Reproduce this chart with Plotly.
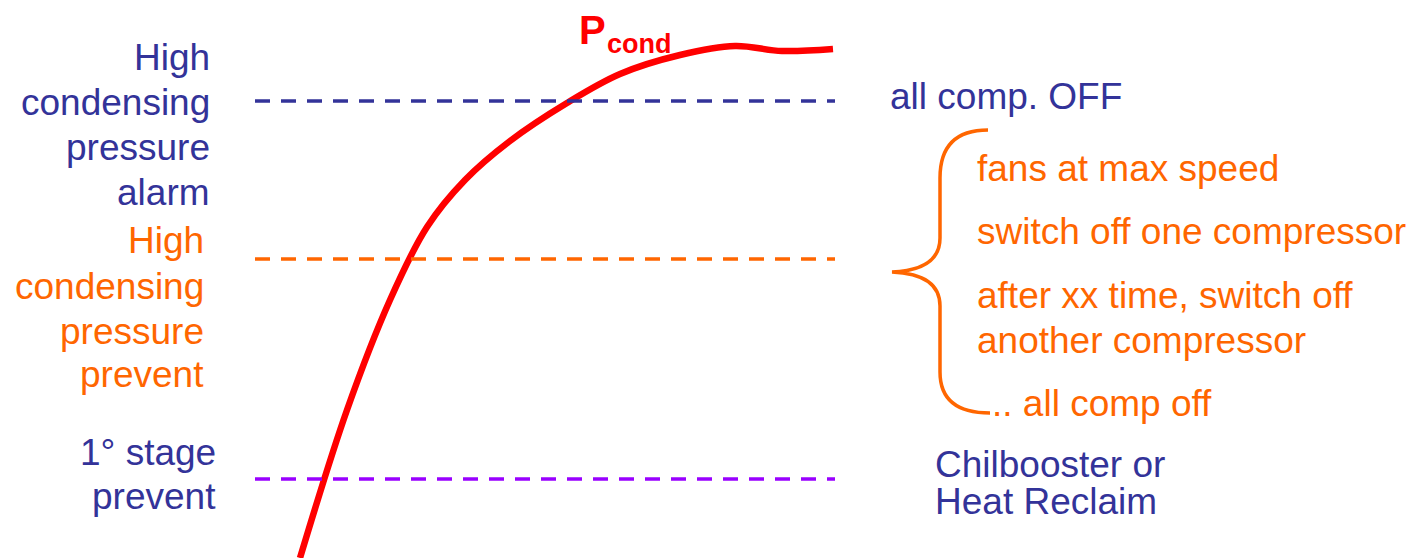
import plotly.graph_objects as go

# condensing pressure curve (x = time, y = level on a screen-like scale, 0 at top)
curve_x = [300, 347, 390, 427, 465, 510, 567, 620, 680, 735, 782, 833]
curve_y = [558, 410, 300, 227, 180, 141, 103, 74, 55, 46, 51, 49]

# threshold levels
level_names = ["alarm", "prevent", "stage1"]
level_y = [101, 259, 479]
level_x0 = 255
level_x1 = 835

BLUE = "#333399"
ORANGE = "#FF6600"
PURPLE = "#9900FF"
RED = "#FF0000"
FONT = "Liberation Sans, Arial, sans-serif"
FS = 37

# left labels: (text, baseline)
alarm_lines = [("High", 68), ("condensing", 113), ("pressure", 158), ("alarm", 203)]
prevent_lines = [("High", 251), ("condensing", 297), ("pressure", 342), ("prevent", 385)]
stage_lines = [("1° stage", 463), ("prevent", 507)]

# right labels: (text, baseline)
off_lines = [("all comp. OFF", 107)]
action_lines = [("fans at max speed", 179), ("switch off one compressor", 242),
                ("after xx time, switch off", 306), ("another compressor", 351)]
last_action = [(".. all comp off", 414)]
reclaim_lines = [("Chilbooster or", 475), ("Heat Reclaim", 512)]

fig = go.Figure()

fig.add_trace(go.Scatter(x=curve_x, y=curve_y, mode="lines",
                         line=dict(color=RED, width=6.5, shape="spline", smoothing=1.0),
                         hoverinfo="skip", showlegend=False))

for y, c in zip(level_y, [BLUE, ORANGE, PURPLE]):
    fig.add_trace(go.Scatter(x=[level_x0, level_x1], y=[y, y], mode="lines",
                             line=dict(color=c, width=3.5, dash="15px,11px"),
                             hoverinfo="skip", showlegend=False))

# brace
fig.add_shape(type="path",
              path="M 988,130 Q 940,130 940,178 L 940,238 Q 940,270 892,272 "
                   "Q 940,274 940,306 L 940,372 Q 940,413 990,413",
              line=dict(color=ORANGE, width=3.5), xref="x", yref="y")


def add_lines(lines, x, anchor, color):
    for txt, base in lines:
        fig.add_annotation(x=x, y=base - 0.28 * FS, text=txt, showarrow=False,
                           xanchor=anchor, yanchor="middle",
                           font=dict(family=FONT, size=FS, color=color))


add_lines(alarm_lines, 212, "right", BLUE)
add_lines(prevent_lines, 206, "right", ORANGE)
add_lines(stage_lines, 218, "right", BLUE)
add_lines(off_lines, 888, "left", BLUE)
add_lines(action_lines, 975, "left", ORANGE)
add_lines(last_action, 990, "left", ORANGE)
add_lines(reclaim_lines, 933, "left", BLUE)

fig.add_annotation(x=577, y=42 - 0.3 * 40, text="<b>P</b>", showarrow=False,
                   xanchor="left", yanchor="middle",
                   font=dict(family=FONT, size=40, color=RED))
fig.add_annotation(x=605, y=52 - 0.3 * 27, text="<b>cond</b>", showarrow=False,
                   xanchor="left", yanchor="middle",
                   font=dict(family=FONT, size=27, color=RED))

fig.update_xaxes(range=[0, 1414], visible=False)
fig.update_yaxes(range=[558, 0], visible=False)
fig.update_layout(width=1414, height=558, margin=dict(l=0, r=0, t=0, b=0),
                  plot_bgcolor="white", paper_bgcolor="white")

# page body has a default margin; drop it so the figure fills the window
fig.write_html("out.html", config={"displayModeBar": False},
               post_script="document.body.style.margin='0';")
